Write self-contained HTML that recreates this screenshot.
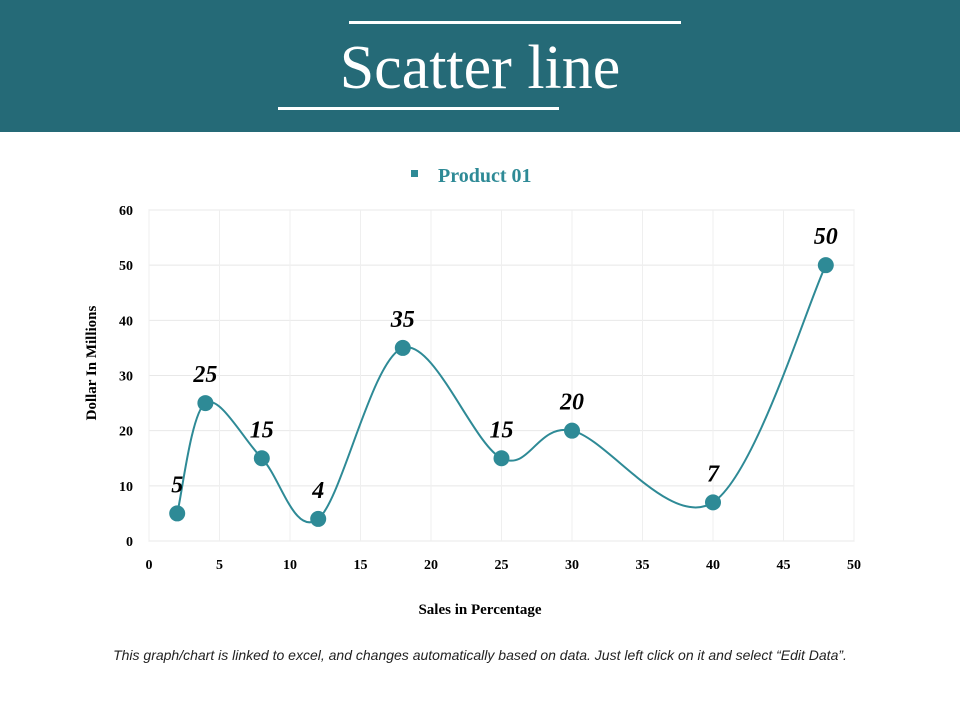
<!DOCTYPE html>
<html><head><meta charset="utf-8"><style>
body{margin:0;width:960px;height:720px;background:#fff;overflow:hidden;font-family:"Liberation Serif",serif}
#hdr{position:absolute;left:0;top:0;width:960px;height:132px;background:#256a77}
#title{position:absolute;left:0;top:28px;width:960px;text-align:center;color:#fff;font-size:62px;line-height:80px}
.ln{position:absolute;height:3px;background:#fff}
#note{position:absolute;left:0;top:647px;width:960px;text-align:center;font-family:"Liberation Sans",sans-serif;font-style:italic;font-size:14px;color:#222}
svg{position:absolute;left:0;top:0}
</style></head><body>
<div id="hdr"></div>
<div class="ln" style="left:349px;top:21px;width:332px"></div>
<div class="ln" style="left:278px;top:107px;width:281px"></div>
<div id="title">Scatter line</div>
<svg id="chart" width="960" height="720"></svg>
<div id="note">This graph/chart is linked to excel, and changes automatically based on data. Just left click on it and select “Edit Data”.</div>
<script>
const xValues=[2,4,8,12,18,25,30,40,48];
const yValues=[5,25,15,4,35,15,20,7,50];
const xTicks=[0,5,10,15,20,25,30,35,40,45,50];
const yTicks=[0,10,20,30,40,50,60];
const seriesName="Product 01";
const NS="http://www.w3.org/2000/svg";
const svg=document.getElementById('chart');
const X0=149,X1=854,Y0=541,Y1=210;
const sx=v=>X0+(v-0)/(50-0)*(X1-X0);
const sy=v=>Y0-(v-0)/(60-0)*(Y0-Y1);
function mk(t,a,txt){const e=document.createElementNS(NS,t);for(const k in a)e.setAttribute(k,a[k]);if(txt!==undefined)e.textContent=txt;svg.appendChild(e);return e;}
let e;
e=mk('rect',{x:X0,y:Y1,width:X1-X0,height:Y0-Y1,fill:'none',stroke:'#e3e3e3'});


yTicks.forEach(t=>{
 e=mk('line',{x1:X0,x2:X1,y1:sy(t),y2:sy(t),stroke:'#e8e8e8'});
 
 
 e=mk('text',{x:X0-16,y:sy(t)+5,'text-anchor':'end','font-size':14,'font-weight':'bold',fill:'#000'},t);
 
 
});
xTicks.forEach(t=>{
 e=mk('line',{x1:sx(t),x2:sx(t),y1:Y1,y2:Y0,stroke:'#efefef'});
 
 
 e=mk('text',{x:sx(t),y:Y0+28,'text-anchor':'middle','font-size':14,'font-weight':'bold',fill:'#000'},t);
 
 
});
e=mk('text',{x:480,y:614,'text-anchor':'middle','font-size':15,'font-weight':'bold'},'Sales in Percentage');


e=mk('text',{x:96,y:363,'text-anchor':'middle','font-size':15,'font-weight':'bold',transform:'rotate(-90 96 363)'},'Dollar In Millions');


e=mk('rect',{x:411,y:170,width:7,height:7,fill:'#2e8a96'});


e=mk('text',{x:438,y:182,'font-size':20,'font-weight':'bold',fill:'#2e8a96'},seriesName);


const P=xValues.map((v,i)=>[sx(v),sy(yValues[i])]);
let d='M'+P[0][0]+','+P[0][1];
for(let i=0;i<P.length-1;i++){
 const p0=P[i-1]||P[i],p1=P[i],p2=P[i+1],p3=P[i+2]||P[i+1],k=1/6;
 d+=` C${p1[0]+(p2[0]-p0[0])*k},${p1[1]+(p2[1]-p0[1])*k} ${p2[0]-(p3[0]-p1[0])*k},${p2[1]-(p3[1]-p1[1])*k} ${p2[0]},${p2[1]}`;
}
e=mk('path',{d:d,fill:'none',stroke:'#2e8a96','stroke-width':2});


P.forEach((p,i)=>{
 e=mk('circle',{cx:p[0],cy:p[1],r:8,fill:'#2e8a96'});
 
 
 e=mk('text',{x:p[0],y:p[1]-21,'text-anchor':'middle','font-size':24,'font-weight':'bold','font-style':'italic'},yValues[i]);
 
 
});
</script>
</body></html>
